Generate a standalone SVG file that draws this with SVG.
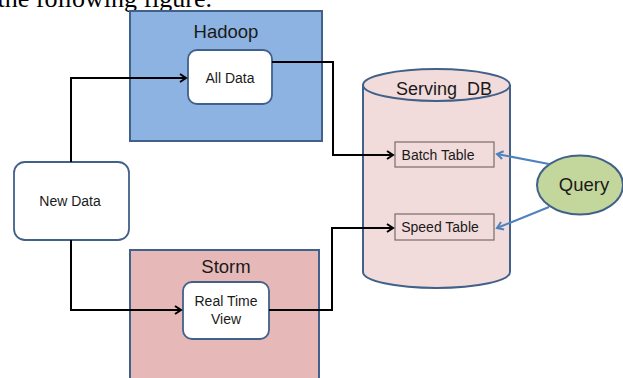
<svg xmlns="http://www.w3.org/2000/svg" width="623" height="378" viewBox="0 0 623 378">
<style>
.t{font-family:"Liberation Sans",Arial,sans-serif;fill:#1a1a1a;text-anchor:middle}
.box{fill:#fff;stroke:#41618a;stroke-width:1.8}
.tbl{fill:#f2dcdb;stroke:#7a6a6a;stroke-width:1.2}
.con{fill:none;stroke:#000;stroke-width:2}
.qcon{fill:none;stroke:#4f81bd;stroke-width:2}
</style>
<defs>
<marker id="ab" markerWidth="10" markerHeight="10" refX="8" refY="5" orient="auto" markerUnits="userSpaceOnUse">
<path d="M2,1 L8,5 L2,9" fill="none" stroke="#000" stroke-width="2"/>
</marker>
<marker id="aq" markerWidth="10" markerHeight="10" refX="8" refY="5" orient="auto" markerUnits="userSpaceOnUse">
<path d="M2,1 L8,5 L2,9" fill="none" stroke="#4f81bd" stroke-width="2"/>
</marker>
</defs>
<text x="212" y="7" style="font-family:'Liberation Serif','Times New Roman',serif;font-size:26px;text-anchor:end;fill:#000">the following figure.</text>
<g id="hadoop">
<rect x="130" y="11" width="192" height="130" fill="#8db3e2" stroke="#41618a" stroke-width="2"/>
<text class="t" x="226" y="38" font-size="18.5">Hadoop</text>
</g>
<g id="storm">
<rect x="130" y="250" width="189" height="140" fill="#e6b9b8" stroke="#41618a" stroke-width="2"/>
<text class="t" x="226" y="273" font-size="18.5">Storm</text>
</g>
<g id="servingdb">
<path d="M363,85 L363,272 A73.5,16 0 0 0 510,272 L510,85" fill="#f2dcdb" stroke="#41618a" stroke-width="2"/>
<ellipse cx="436.5" cy="85" rx="73.5" ry="16" fill="#f2dcdb" stroke="#41618a" stroke-width="2"/>
<text class="t" x="444" y="95" font-size="18" xml:space="preserve">Serving  DB</text>
</g>
<g id="alldata">
<rect class="box" x="188" y="50" width="84" height="54" rx="9"/>
<text class="t" x="230" y="83" font-size="14">All Data</text>
</g>
<g id="newdata">
<rect class="box" x="14" y="162" width="115" height="78" rx="11"/>
<text class="t" x="70" y="206" font-size="14">New Data</text>
</g>
<g id="realtime">
<rect class="box" x="183" y="282" width="86" height="57" rx="9"/>
<text class="t" x="226" y="306" font-size="14">Real Time</text>
<text class="t" x="226" y="324" font-size="14">View</text>
</g>
<g id="batchtable">
<rect class="tbl" x="395" y="142" width="99" height="25"/>
<text class="t" x="438" y="160" font-size="14">Batch Table</text>
</g>
<g id="speedtable">
<rect class="tbl" x="395" y="214" width="99" height="26"/>
<text class="t" x="440" y="232" font-size="14">Speed Table</text>
</g>
<g id="query">
<ellipse cx="580" cy="185" rx="43" ry="29.5" fill="#c3d69b" stroke="#41618a" stroke-width="2"/>
<text class="t" x="584" y="191" font-size="18.5">Query</text>
</g>
<g id="connectors">
<path class="con" d="M71,162 L71,78 L186,78" marker-end="url(#ab)"/>
<path class="con" d="M71,240 L71,310 L181,310" marker-end="url(#ab)"/>
<path class="con" d="M272,62 L333,62 L333,155 L393,155" marker-end="url(#ab)"/>
<path class="con" d="M269,310 L332,310 L332,228 L393,228" marker-end="url(#ab)"/>
<path class="qcon" d="M549,164 L497,154" marker-end="url(#aq)"/>
<path class="qcon" d="M549,207 L497,228" marker-end="url(#aq)"/>
</g>
</svg>
